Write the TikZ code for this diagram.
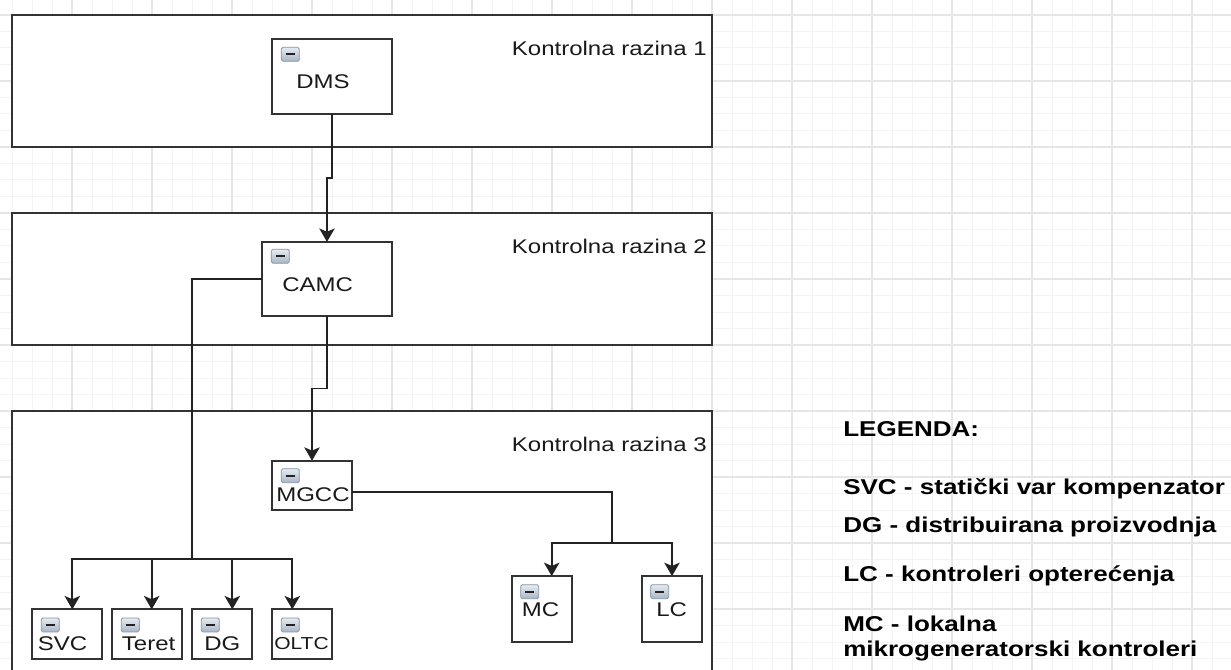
\documentclass[tikz,border=0pt]{standalone}
\usepackage{fontspec}
\setmainfont{Liberation Sans}
\usepackage{graphicx}
\usetikzlibrary{arrows.meta,calc}
\definecolor{gmin}{HTML}{F4F4F4}
\definecolor{gmaj}{HTML}{E6E6E6}
\definecolor{edgec}{HTML}{333333}
\definecolor{wirec}{HTML}{222222}
\definecolor{icotop}{HTML}{E6EBF1}
\definecolor{icobot}{HTML}{A9B6C5}
\definecolor{icoedge}{HTML}{8594A6}
\newcommand\hs[1]{\scalebox{1.212}[1]{#1}}
\newcommand\nodefont{\fontsize{14.85}{17}\selectfont}
\newcommand\smallnodefont{\fontsize{13}{15}\selectfont}
\newcommand\legfont{\fontsize{16.1}{19}\selectfont\bfseries}
\begin{document}
\begin{tikzpicture}[x=0.75pt,y=-0.75pt,
  gridminor/.style={draw=gmin, line width=0.75pt},
  gridmajor/.style={draw=gmaj, line width=0.9pt},
  tier/.style={draw=edgec, fill=white, line width=1.5pt},
  ubox/.style={rectangle, draw=edgec, fill=white, line width=1.4pt, inner sep=0pt, outer sep=0pt},
  wire/.style={draw=wirec, line width=1.45pt},
  feedarrow/.style={wire, -{Stealth[length=10pt,width=11.5pt,inset=2.4pt]}},
  unittext/.style={inner sep=0pt, anchor=base west, font=\nodefont, text=black!90},
  levtext/.style={inner sep=0pt, anchor=base east, font=\nodefont, text=black!90},
  legtext/.style={inner sep=0pt, anchor=base west, font=\legfont},
  colicon/.pic={
    \draw[draw=icoedge, line width=0.6pt, rounded corners=1.2pt, top color=icotop, bottom color=icobot] (0,0) rectangle (18,14);
    \fill[wirec] (4.6,5.9) rectangle (13.4,8.1);
  }]
\useasboundingbox (0,0) rectangle (1231,670);
\clip (0,0) rectangle (1231,670);
\fill[white] (0,0) rectangle (1231,670);
% grid
\foreach \i in {0,...,62} { \draw[gridminor] ({-8+20*\i},0) -- ({-8+20*\i},670); }
\foreach \j in {0,...,41} { \draw[gridminor] (0,{-1.5+16.5*\j}) -- (1231,{-1.5+16.5*\j}); }
\foreach \i in {0,...,16} { \draw[gridmajor] ({-8+80*\i},0) -- ({-8+80*\i},670); }
\foreach \j in {-1,...,10} { \draw[gridmajor] (0,{15+66*\j}) -- (1231,{15+66*\j}); }
% control levels
\draw[tier] (12,15) rectangle (712,147);
\draw[tier] (12,213) rectangle (712,345);
\draw[tier] (12,411) rectangle (712,700);
\node[levtext] (lev1) at (707,55.3) {\hs{Kontrolna razina 1}};
\node[levtext] (lev2) at (707,253.3) {\hs{Kontrolna razina 2}};
\node[levtext] (lev3) at (707,451.3) {\hs{Kontrolna razina 3}};
% units
\node[ubox, minimum width=90pt, minimum height=56.25pt] (dms) at (332,76.5) {};
\node[ubox, minimum width=97.5pt, minimum height=55.7pt] (camc) at (327,279) {};
\node[ubox, minimum width=60pt, minimum height=37pt] (mgcc) at (312,485.4) {};
\node[ubox, minimum width=53pt, minimum height=37.3pt] (svc) at (67,634.2) {};
\node[ubox, minimum width=53pt, minimum height=37.3pt] (teret) at (147,634.2) {};
\node[ubox, minimum width=45.5pt, minimum height=37.3pt] (dg) at (222,634.2) {};
\node[ubox, minimum width=45.5pt, minimum height=37.3pt] (oltc) at (302,634.2) {};
\node[ubox, minimum width=45.5pt, minimum height=49.7pt] (mc) at (542,609.2) {};
\node[ubox, minimum width=45.5pt, minimum height=49.7pt] (lc) at (672,609.2) {};
% collapse icons
\pic at ($(dms.north west)+(9.3,8.3)$) {colicon};
\pic at ($(camc.north west)+(9.3,7.3)$) {colicon};
\pic at ($(mgcc.north west)+(9.3,8)$) {colicon};
\pic at ($(svc.north west)+(9.6,8.6)$) {colicon};
\pic at ($(teret.north west)+(9.6,8.6)$) {colicon};
\pic at ($(dg.north west)+(9.6,8.6)$) {colicon};
\pic at ($(oltc.north west)+(9.6,8.6)$) {colicon};
\pic at ($(mc.north west)+(9,8.6)$) {colicon};
\pic at ($(lc.north west)+(9,8.6)$) {colicon};
% unit texts
\node[unittext] (tdms) at (296,88.3) {\hs{DMS}};
\node[unittext] (tcamc) at (282,291.7) {\hs{CAMC}};
\node[unittext] (tmgcc) at (276,501.7) {\hs{MGCC}};
\node[unittext] (tsvc) at (37.7,650) {\hs{SVC}};
\node[unittext] (tteret) at (121.7,650) {\hs{Teret}};
\node[unittext] (tdg) at (204,650) {\hs{DG}};
\node[unittext, font=\smallnodefont] (toltc) at (274,649.3) {\hs{OLTC}};
\node[unittext] (tmc) at (521.7,616.7) {\hs{MC}};
\node[unittext] (tlc) at (656,616.7) {\hs{LC}};
% connectors
\coordinate (j1) at (332,178);
\coordinate (j2) at (327,388.5);
\coordinate (j3) at (192,559.3);
\coordinate (j4) at (611.7,543.3);
\draw[feedarrow] (dms.south) -- (j1) -| (camc.north);
\draw[feedarrow] (camc.south) -- (j2) -| (mgcc.north);
\draw[wire] (camc.west) -| (j3);
\draw[feedarrow] (j3) -| ($(svc.north)+(5.3,0)$);
\draw[feedarrow] (j3) -| ($(teret.north)+(4.7,0)$);
\draw[feedarrow] (j3) -| ($(dg.north)+(10.3,0)$);
\draw[feedarrow] (j3) -| ($(oltc.north)+(-9.7,0)$);
\draw[wire] ($(mgcc.east)+(0,7)$) -| (j4);
\draw[feedarrow] (j4) -| ($(mc.north)+(9.7,0)$);
\draw[feedarrow] (j4) -| (lc.north);
% legend
\node[legtext] (leg0) at (843,436.7) {\hs{LEGENDA:}};
\node[legtext] (leg1) at (843,494.3) {\hs{SVC - statički var kompenzator}};
\node[legtext] (leg2) at (843,532.7) {\hs{DG - distribuirana proizvodnja}};
\node[legtext] (leg3) at (843,581.7) {\hs{LC - kontroleri opterećenja}};
\node[legtext] (leg4) at (843,631) {\hs{MC - lokalna}};
\node[legtext] (leg5) at (843,656) {\hs{mikrogeneratorski kontroleri}};
\end{tikzpicture}
\end{document}
